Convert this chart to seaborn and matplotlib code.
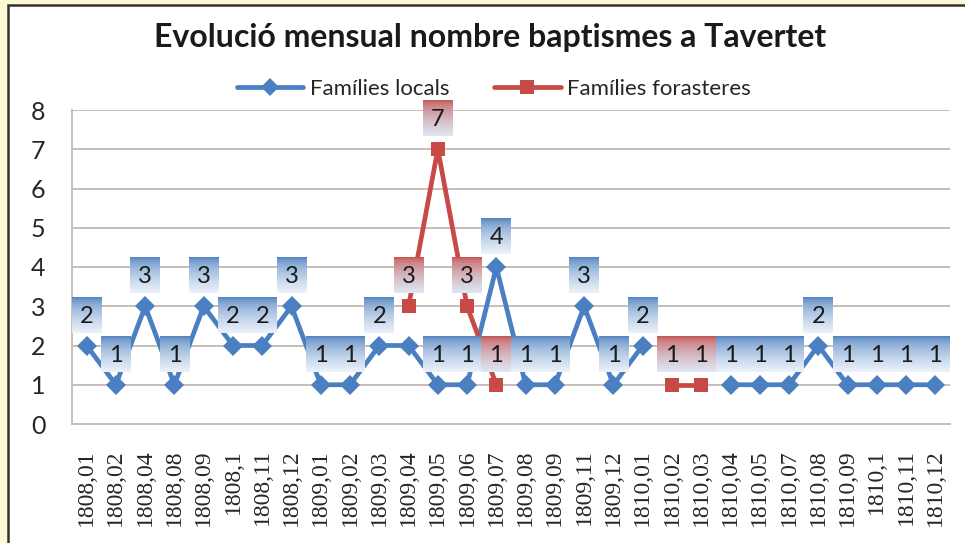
import numpy as np
import pandas as pd
import matplotlib
matplotlib.use("Agg")
import matplotlib.pyplot as plt
import seaborn as sns
from matplotlib.patches import Rectangle
from matplotlib.lines import Line2D


#==============================================================
# 1. Data
#==============================================================

nan = np.nan
months = ["1808,01", "1808,02", "1808,04", "1808,08", "1808,09", "1808,1",
          "1808,11", "1808,12", "1809,01", "1809,02", "1809,03", "1809,04",
          "1809,05", "1809,06", "1809,07", "1809,08", "1809,09", "1809,11",
          "1809,12", "1810,01", "1810,02", "1810,03", "1810,04", "1810,05",
          "1810,07", "1810,08", "1810,09", "1810,1", "1810,11", "1810,12"]
families_locals = [2, 1, 3, 1, 3, 2, 2, 3, 1, 1, 2, 2, 1, 1, 4, 1, 1, 3, 1, 2,
                   nan, nan, 1, 1, 1, 2, 1, 1, 1, 1]
families_forasteres = [nan] * 11 + [3, 7, 3, 1] + [nan] * 5 + [1, 1] + [nan] * 8
series_names = ["Famílies locals", "Famílies forasteres"]
# labels that were hidden in the original chart (1809,04 locals)
hidden_local_labels = {11}

title = "Evolució mensual nombre baptismes a Tavertet"

#==============================================================
# 2. Style
#==============================================================

blue = "#4a7fc1"
red = "#c84a47"
grid_col = "#c9beb7"

sns.set_style("white")
plt.rcParams["font.family"] = ["Lato", "DejaVu Sans"]

rows = []
for name, vals in zip(series_names, [families_locals, families_forasteres]):
    seg = 0
    for i, v in enumerate(vals):
        if np.isnan(v):
            seg += 1
            continue
        rows.append({"pos": i, "value": v, "serie": name, "seg": seg})
df = pd.DataFrame(rows)

#==============================================================
# 3. Plot
#==============================================================

fig = plt.figure(figsize=(9.65, 5.43), dpi=100)
fig.patch.set_facecolor("#fdf9d2")
fig.patches.append(Rectangle((8 / 965, -0.02), 1.0, 1 - 5 / 543 + 0.02,
                             transform=fig.transFigure, facecolor="white",
                             edgecolor="#333333", lw=1.8, zorder=-1))

ax = fig.add_axes([72 / 965, 1 - 424 / 543, (950 - 72) / 965, (424 - 110) / 543])
ax.set_facecolor("none")

sns.lineplot(data=df, x="pos", y="value", hue="serie", style="serie",
             units="seg", estimator=None, sort=False,
             hue_order=series_names, style_order=series_names,
             palette={series_names[0]: blue, series_names[1]: red},
             markers={series_names[0]: "D", series_names[1]: "s"},
             dashes=False, lw=3.4, markersize=10, markeredgewidth=0,
             legend=False, ax=ax, zorder=3)


def label_box(x, v, top_rgb, bottom_rgb):
    t = np.linspace(0, 1, 64)[:, None] ** 0.6
    top = np.array(top_rgb) / 255
    bot = np.array(bottom_rgb) / 255
    img = top * (1 - t) + bot * t
    im = ax.imshow(img[:, None, :], extent=(x - 0.51, x + 0.51, v + 0.33, v + 1.23),
                   aspect="auto", zorder=5, interpolation="bilinear")
    im.set_clip_on(False)
    ax.text(x, v + 0.75, f"{int(v)}", ha="center", va="center", fontsize=17,
            color="#1a1a1a", zorder=6, clip_on=False)


for i, v in enumerate(families_locals):
    if not np.isnan(v) and i not in hidden_local_labels:
        label_box(i, v, (78, 128, 190), (236, 242, 250))
for i, v in enumerate(families_forasteres):
    if not np.isnan(v):
        label_box(i, v, (196, 82, 80), (222, 231, 244))

ax.set_xlim(-0.5, len(months) - 0.5)
ax.set_ylim(0, 8)
ax.set_yticks(range(0, 9))
ax.set_xticks(range(len(months)))
ax.set_xticklabels(months, rotation=90, fontsize=17, family="Liberation Serif")
ax.set_xticks(np.arange(-0.5, len(months)), minor=True)
ax.tick_params(axis="x", which="major", length=0, pad=18)
ax.tick_params(axis="x", which="minor", length=7, width=1.2, color=grid_col, direction="out")
ax.tick_params(axis="y", length=7, width=1.2, color=grid_col, pad=12, labelsize=18)
ax.set_xlabel("")
ax.set_ylabel("")
ax.grid(axis="y", color=grid_col, lw=1.4)
ax.set_axisbelow(True)
for side in ["top", "right"]:
    ax.spines[side].set_visible(False)
for side in ["left", "bottom"]:
    ax.spines[side].set_color(grid_col)
    ax.spines[side].set_linewidth(1.4)

fig.text(490 / 965, 1 - 38 / 543, title, ha="center", va="center",
         fontsize=23, fontweight="bold", color="#1a1a1a")

handles = [Line2D([], [], color=blue, lw=3.4, marker="D", markersize=9, markeredgewidth=0),
           Line2D([], [], color=red, lw=3.4, marker="s", markersize=10, markeredgewidth=0)]
fig.legend(handles, series_names, loc="center", bbox_to_anchor=(494 / 965, 1 - 89 / 543),
           ncol=2, frameon=False, fontsize=16, handlelength=3.0, columnspacing=2.0,
           handletextpad=0.3)

fig.savefig("out.png", dpi=100, facecolor=fig.get_facecolor())
